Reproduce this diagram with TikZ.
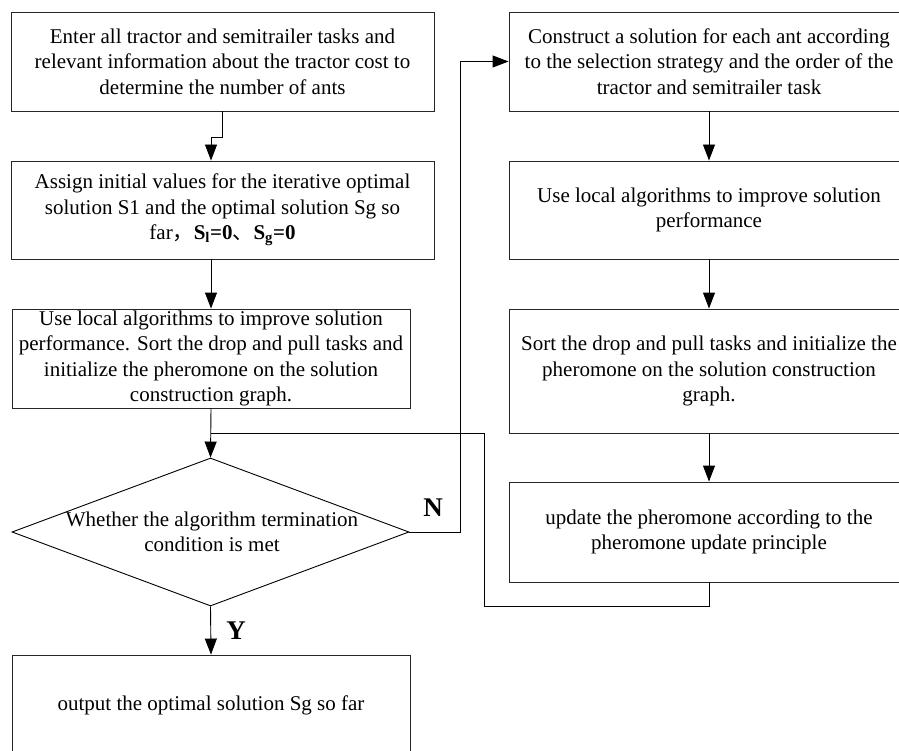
\documentclass[tikz,border=0pt]{standalone}
\usepackage{fontspec}
\setmainfont{Liberation Serif}
\newfontfamily\cjk{Noto Sans CJK SC}
\usetikzlibrary{shapes.geometric,arrows.meta}
\begin{document}
\begin{tikzpicture}[x=1pt,y=-1pt,
  box/.style={draw=black!85,line width=0.9pt,rectangle,inner sep=0pt,align=center,
    font=\fontsize{21}{25.5}\selectfont},
  arr/.style={draw=black,line width=0.9pt,-{Triangle[length=16pt,width=12pt]}},
  ln/.style={draw=black,line width=0.9pt},
  lbl/.style={font=\fontsize{27}{29}\selectfont\bfseries}]
\useasboundingbox (0,0) rectangle (899,751);
\node[box,minimum width=423pt,minimum height=99pt] (b1) at (222.5,61.5)
  {Enter all tractor and semitrailer tasks and\\relevant information about the tractor cost to\\determine the number of ants};
\node[box,minimum width=423pt,minimum height=98pt] (b2) at (222.5,210)
  {Assign initial values for the iterative optimal\\solution S1 and the optimal solution Sg so\\far{\cjk ，}\textbf{S\textsubscript{l}=0}{\cjk 、}\textbf{S\textsubscript{g}=0}};
\node[box,minimum width=398pt,minimum height=99pt] (b3) at (211,358.5)
  {Use local algorithms to improve solution\\performance. Sort the drop and pull tasks and\\initialize the pheromone on the solution\\construction graph.};
\node[draw=black,line width=0.9pt,diamond,inner sep=0pt,minimum width=397pt,minimum height=148pt] (d) at (210.5,532) {};
\node[align=center,font=\fontsize{21}{25.5}\selectfont] (dt) at (212,532) {Whether the algorithm termination\\condition is met};
\node[box,minimum width=398pt,minimum height=100pt] (b4) at (211,705)
  {output the optimal solution Sg so far};
\node[box,minimum width=400pt,minimum height=99pt] (r1) at (709,61.5)
  {Construct a solution for each ant according\\to the selection strategy and the order of the\\tractor and semitrailer task};
\node[box,minimum width=400pt,minimum height=98pt] (r2) at (709,210)
  {Use local algorithms to improve solution\\performance};
\node[box,minimum width=400pt,minimum height=124pt] (r3) at (709,371)
  {Sort the drop and pull tasks and initialize the\\pheromone on the solution construction\\graph.};
\node[box,minimum width=400pt,minimum height=100pt] (r4) at (709,532)
  {update the pheromone according to the\\pheromone update principle};
\coordinate (j) at (211,433);
\coordinate (lp) at (484,433);
\draw[arr] (b1.south) -- ++(0,26) -| ([xshift=-11.5pt]b2.north);
\draw[arr] (b3.north |- b2.south) -- (b3.north);
\draw[arr] (b3.south) -- (d.north);
\draw[ln] (r4.south) -- ++(0,24) -| (lp) -- (j);
\draw[arr] (d.east) -- ++(51,0) |- (r1.west);
\draw[arr] (d.south) -- (b4.north);
\draw[arr] (r1.south) -- (r2.north);
\draw[arr] (r2.south) -- (r3.north);
\draw[arr] (r3.south) -- (r4.north);
\node[lbl] (nl) at (433,508) {N};
\node[lbl] (yl) at (236,631) {Y};
\end{tikzpicture}
\end{document}
